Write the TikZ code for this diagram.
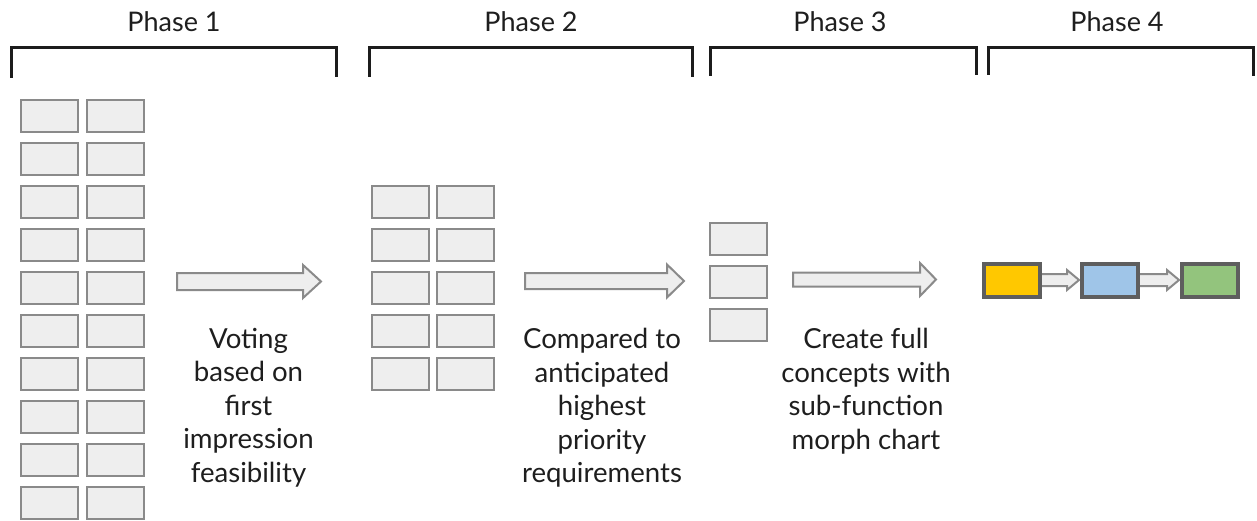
\documentclass[tikz,border=0pt]{standalone}
\usepackage{fontspec}
\setmainfont{Lato}
\begin{document}
\begin{tikzpicture}[x=1pt,y=-1pt,
  txt/.style={text=textdark, inner sep=0pt},
  phasetitle/.style={txt, font=\fontsize{27}{30}\selectfont, anchor=base},
  note/.style={txt, font=\fontsize{27.6}{33.5}\selectfont, align=center, anchor=north},
  bracket/.style={draw=bracketdark, line width=3pt},
  cell/.style={draw=cellgray, fill=cellfill, line width=2pt, minimum width=57pt, minimum height=32pt, inner sep=0pt},
  stage/.style={draw=stageborder, line width=4pt, minimum width=56pt, minimum height=33pt, inner sep=0pt},
  arrowstyle/.style={draw=cellgray, fill=cellfill, line width=2pt, line join=miter},
  pics/blockarrow/.style n args={4}{code={
    \path[arrowstyle] (0,-#2/2) -- (#1-#4,-#2/2) -- (#1-#4,-#3/2) -- (#1,0)
      -- (#1-#4,#3/2) -- (#1-#4,#2/2) -- (0,#2/2) -- cycle;}}
]
\definecolor{textdark}{HTML}{1E1E1E}
\definecolor{bracketdark}{HTML}{1C1C1C}
\definecolor{cellgray}{HTML}{8A8A8A}
\definecolor{cellfill}{HTML}{EEEEEE}
\definecolor{stageborder}{HTML}{5E5E5E}
\definecolor{stageyellow}{HTML}{FFC800}
\definecolor{stageblue}{HTML}{9FC5E8}
\definecolor{stagegreen}{HTML}{93C47D}

\useasboundingbox (0,0) rectangle (1257,521);

% phase headings and brackets
\node[phasetitle] (t1) at (174,32) {Phase 1};
\node[phasetitle] (t2) at (531,32) {Phase 2};
\node[phasetitle] (t3) at (840,32) {Phase 3};
\node[phasetitle] (t4) at (1117,32) {Phase 4};
\draw[bracket] (11,78) -- (11,48) -- (336,48) -- (336,77);
\draw[bracket] (369,77) -- (369,48) -- (692.5,48) -- (692.5,77);
\draw[bracket] (710.5,76) -- (710.5,47.5) -- (976.5,47.5) -- (976.5,75);
\draw[bracket] (988.5,75) -- (988.5,47.5) -- (1253.5,47.5) -- (1253.5,76);

% phase 1: twenty ideas
\foreach \r in {0,...,9}{
  \node[cell] (pa\r) at (49.5,116+43*\r) {};
  \node[cell] (pb\r) at (115.5,116+43*\r) {};
}
% phase 2: ten ideas
\foreach \r in {0,...,4}{
  \node[cell] (qa\r) at (400.5,202.5+42.9*\r) {};
  \node[cell] (qb\r) at (465.5,202.5+42.9*\r) {};
}
% phase 3: three ideas
\foreach \r in {0,...,2}{
  \node[cell] (sa\r) at (738.5,239+43*\r) {};
}

% block arrows between phases
\coordinate (a1) at (177,281.5);
\coordinate (a2) at (525,281);
\coordinate (a3) at (793,279.5);
\pic at (a1) {blockarrow={144}{17}{33}{18}};
\pic at (a2) {blockarrow={159}{16}{33}{17}};
\pic at (a3) {blockarrow={143}{14}{33}{16}};

% phase notes
\node[note] (n1) at (248.5,328) {Voting\\based on\\first\\impression\\feasibility};
\node[note] (n2) at (602,328) {Compared to\\anticipated\\highest\\priority\\requirements};
\node[note] (n3) at (866,328) {Create full\\concepts with\\sub-function\\morph chart};

% phase 4: full concept chain
\coordinate (c1) at (1040,280);
\coordinate (c2) at (1138,280);
\pic at (c1) {blockarrow={39}{12}{20}{12}};
\pic at (c2) {blockarrow={41}{12}{20}{12}};
\node[stage, fill=stageyellow] (y) at (1012,280.5) {};
\node[stage, fill=stageblue] (b) at (1110,280.5) {};
\node[stage, fill=stagegreen] (g) at (1210,280.5) {};
\end{tikzpicture}
\end{document}
